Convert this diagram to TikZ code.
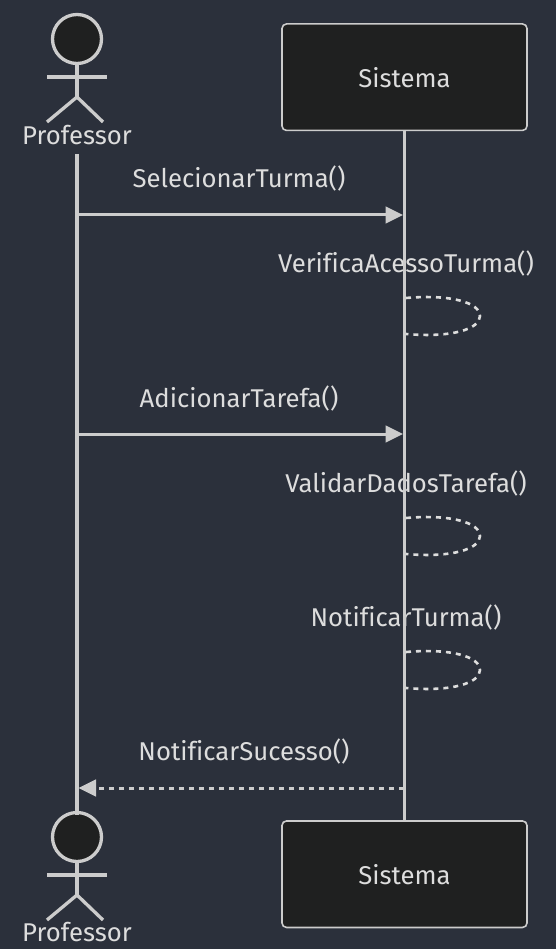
\documentclass[tikz,border=0pt]{standalone}
\usepackage{fontspec}
\setmainfont[Ligatures=NoCommon]{Fira Sans}
\usetikzlibrary{arrows.meta}
\definecolor{bgc}{HTML}{2B303B}
\definecolor{boxc}{HTML}{1F2020}
\definecolor{linec}{HTML}{CCCCCC}
\definecolor{txtc}{HTML}{DDDDDD}
\tikzset{
  x=1pt,y=-1pt,
  sysbox/.style={draw=linec,fill=boxc,line width=1.6pt,rounded corners=4.5pt,minimum width=245pt,minimum height=106.5pt,inner sep=0pt,text=txtc,font=\fontsize{25.7}{28}\selectfont},
  actorhead/.style={circle,draw=linec,fill=boxc,line width=3.3pt,minimum size=49pt,inner sep=0pt},
  actorlimb/.style={draw=linec,line width=3.3pt},
  lifeline/.style={draw=linec,line width=3.7pt},
  lab/.style={text=txtc,font=\fontsize{25.7}{28}\selectfont,inner sep=0pt},
  msg/.style={draw=linec,line width=3pt,-{Triangle[length=17.5pt,width=16.5pt,fill=linec]}},
  retmsg/.style={msg,dash pattern=on 5pt off 5pt},
  selfloop/.style={draw=txtc,line width=2.6pt,dash pattern=on 5pt off 5pt},
}
\begin{document}
\begin{tikzpicture}
\useasboundingbox[fill=bgc] (0,0) rectangle (556,949);
% message labels (the lifelines run over them)
\node[lab] (m1) at (239,178.8) {SelecionarTurma()};
\node[lab] (m2) at (406,263.8) {VerificaAcessoTurma()};
\node[lab] (m3) at (239,398.8) {AdicionarTarefa()};
\node[lab] (m4) at (406,483.8) {ValidarDadosTarefa()};
\node[lab] (m5) at (406,617.8) {NotificarTurma()};
\node[lab] (m6) at (244,751.8) {NotificarSucesso()};
% participants
\node[sysbox] (st) at (404.5,77.2) {Sistema};
\node[sysbox] (sb) at (404.5,874.2) {Sistema};
\node[lab] (pt) at (77,135.4) {Professor};
\node[lab] (pb) at (77,932.4) {Professor};
\coordinate (ls) at (77.2,154);
\coordinate (le) at (77.2,815);
\node[actorhead] (ht) at (77,39) {};
\node[actorhead] (hb) at (77,837) {};
% actors
\foreach \h/\o in {ht/0,hb/798}{
  \coordinate (hip) at (77,97+\o);
  \coordinate (al) at (47,77+\o);
  \coordinate (ar) at (107,77+\o);
  \coordinate (fl) at (47,122+\o);
  \coordinate (fr) at (103,122+\o);
  \draw[actorlimb] (\h.south) -- (hip);
  \draw[actorlimb] (al) -- (ar);
  \draw[actorlimb] (fl) -- (hip) -- (fr);
}
% lifelines
\draw[lifeline] (ls) -- (le);
\draw[lifeline] (st.south) -- (sb.north);
% message anchors on the lifelines
\coordinate (a1) at (78.5,215);  \coordinate (b1) at (403,215);
\coordinate (a3) at (78.5,434);  \coordinate (b3) at (403,434);
\coordinate (a6) at (78.5,788);  \coordinate (b6) at (404,788);
\draw[msg] (a1) -- (b1);
\draw[msg] (a3) -- (b3);
\draw[retmsg] (b6) -- (a6);
% self calls
\foreach \y in {316,536,670}{
  \coordinate (lt) at (406,\y-18);
  \coordinate (lb) at (406,\y+18);
  \draw[selfloop] (lt) .. controls (452,\y-22) and (480,\y-13) .. (480,\y) .. controls (480,\y+13) and (452,\y+22) .. (lb);
}
\end{tikzpicture}
\end{document}
